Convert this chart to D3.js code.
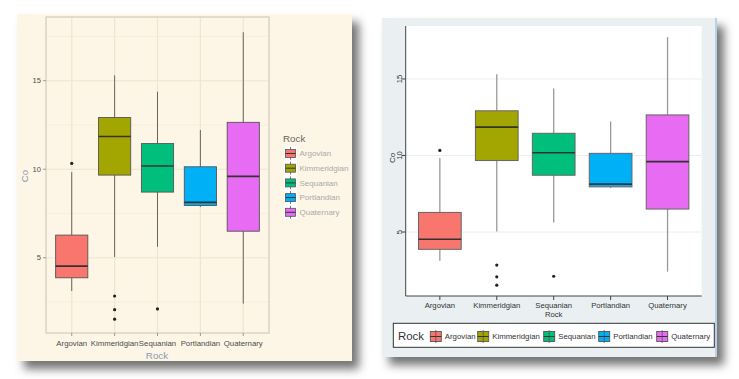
<!DOCTYPE html>
<html><head><meta charset="utf-8">
<script src="https://cdn.jsdelivr.net/npm/d3@7"></script>
<style>html,body{margin:0;padding:0;background:#fff;}svg{display:block;font-family:"Liberation Sans",Arial,sans-serif;}</style>
</head><body>
<svg id="c" width="739" height="379"></svg>
<script>
const categories = ["Argovian","Kimmeridgian","Sequanian","Portlandian","Quaternary"];
const fillColors = ["#F8766D","#A3A500","#00BF7D","#00B0F6","#E76BF3"];
const whiskerLow  = [3.12, 5.04, 5.62, 7.87, 2.41];
const q1          = [3.87, 9.67, 8.71, 7.95, 6.50];
const median      = [4.53, 11.85, 10.18, 8.13, 9.60];
const q3          = [6.28, 12.92, 11.45, 10.14, 12.65];
const whiskerHigh = [9.84, 15.30, 14.38, 12.22, 17.74];
const outlierCat  = ["Argovian","Kimmeridgian","Kimmeridgian","Kimmeridgian","Sequanian"];
const outlierVal  = [10.33, 2.84, 2.07, 1.53, 2.11];
const yTicks = [5, 10, 15];
const yMinor = [2.5, 7.5, 12.5, 17.5];

const rows = categories.map((c,i)=>({c, col:fillColors[i], lo:whiskerLow[i], q1:q1[i], med:median[i], q3:q3[i], hi:whiskerHigh[i]}));
const outs = outlierCat.map((c,i)=>({c, v:outlierVal[i]}));

const svg = d3.select("#c");
const defs = svg.append("defs");
const f = defs.append("filter").attr("id","sh").attr("x","-10%").attr("y","-10%").attr("width","130%").attr("height","130%");
f.append("feDropShadow").attr("dx",7).attr("dy",8).attr("stdDeviation",5).attr("flood-color","#000").attr("flood-opacity",0.55);

// ---------------- LEFT (ggplot style) ----------------
const L = svg.append("g");
L.append("rect").attr("x",17).attr("y",14).attr("width",335).attr("height",347).attr("fill","#fdf5e6").attr("filter","url(#sh)");
const lx = d3.scalePoint().domain(categories).range([46,269]).padding(0.6);
const ly = d3.scaleLinear().domain([0.75,18.6]).range([333,17]);
const lstep = lx.step(), lbw = lstep*0.75;
L.append("rect").attr("x",46).attr("y",17).attr("width",223).attr("height",316).attr("fill","#fdf5e6");
L.selectAll(".mn").data(yMinor).join("line").attr("x1",46).attr("x2",269).attr("y1",d=>ly(d)).attr("y2",d=>ly(d)).attr("stroke","#f5ecdb").attr("stroke-width",0.8);
L.selectAll(".mj").data(yTicks).join("line").attr("x1",46).attr("x2",269).attr("y1",d=>ly(d)).attr("y2",d=>ly(d)).attr("stroke","#f0e5cf").attr("stroke-width",1.2);
L.selectAll(".vj").data(categories).join("line").attr("x1",d=>lx(d)).attr("x2",d=>lx(d)).attr("y1",17).attr("y2",333).attr("stroke","#f0e5cf").attr("stroke-width",1.2);
L.append("rect").attr("x",46).attr("y",17).attr("width",223).attr("height",316).attr("fill","none").attr("stroke","#c9c2b6").attr("stroke-width",1);
// boxes
const lb = L.selectAll(".bx").data(rows).join("g");
lb.append("line").attr("x1",d=>lx(d.c)).attr("x2",d=>lx(d.c)).attr("y1",d=>ly(d.hi)).attr("y2",d=>ly(d.q3)).attr("stroke","#444").attr("stroke-width",0.8);
lb.append("line").attr("x1",d=>lx(d.c)).attr("x2",d=>lx(d.c)).attr("y1",d=>ly(d.q1)).attr("y2",d=>ly(d.lo)).attr("stroke","#444").attr("stroke-width",0.8);
lb.append("rect").attr("x",d=>lx(d.c)-lbw/2).attr("width",lbw).attr("y",d=>ly(d.q3)).attr("height",d=>ly(d.q1)-ly(d.q3)).attr("fill",d=>d.col).attr("stroke","#555").attr("stroke-width",0.9);
lb.append("line").attr("x1",d=>lx(d.c)-lbw/2).attr("x2",d=>lx(d.c)+lbw/2).attr("y1",d=>ly(d.med)).attr("y2",d=>ly(d.med)).attr("stroke","#333").attr("stroke-width",1.6);
L.selectAll(".ot").data(outs).join("circle").attr("cx",d=>lx(d.c)).attr("cy",d=>ly(d.v)).attr("r",1.6).attr("fill","#222");
// axes
L.selectAll(".yt").data(yTicks).join("line").attr("x1",43).attr("x2",46).attr("y1",d=>ly(d)).attr("y2",d=>ly(d)).attr("stroke","#999");
L.selectAll(".ytl").data(yTicks).join("text").attr("x",41).attr("y",d=>ly(d)).attr("dy","0.35em").attr("text-anchor","end").attr("font-size",7.6).attr("fill","#4d4d4d").text(d=>d);
L.selectAll(".xt").data(categories).join("line").attr("x1",d=>lx(d)).attr("x2",d=>lx(d)).attr("y1",333).attr("y2",336).attr("stroke","#999");
L.selectAll(".xtl").data(categories).join("text").attr("x",d=>lx(d)).attr("y",346).attr("text-anchor","middle").attr("font-size",7.8).attr("fill","#4d4d4d").text(d=>d);
L.append("text").attr("x",157).attr("y",359).attr("text-anchor","middle").attr("font-size",9.8).attr("fill","#8a9ab0").text("Rock");
L.append("text").attr("transform","translate(28,176) rotate(-90)").attr("text-anchor","middle").attr("font-size",9.6).attr("fill","#8a9ab0").text("Co");
// legend
L.append("text").attr("x",283).attr("y",142).attr("font-size",9.8).attr("fill","#666").text("Rock");
const lg = L.selectAll(".lg").data(rows).join("g").attr("transform",(d,i)=>`translate(284,${146+i*14.7})`);
lg.append("rect").attr("width",13).attr("height",14.7).attr("fill","#fff");
lg.append("line").attr("x1",6.5).attr("x2",6.5).attr("y1",1).attr("y2",13.7).attr("stroke","#555").attr("stroke-width",0.8);
lg.append("rect").attr("x",1.5).attr("y",3.5).attr("width",10).attr("height",8).attr("fill",d=>d.col).attr("stroke","#555").attr("stroke-width",0.8);
lg.append("line").attr("x1",1.5).attr("x2",11.5).attr("y1",7.5).attr("y2",7.5).attr("stroke","#333").attr("stroke-width",1);
lg.append("text").attr("x",15.5).attr("y",7.5).attr("dy","0.35em").attr("font-size",8).attr("fill","#aaa").text(d=>d.c);

// ---------------- RIGHT (Stata style) ----------------
const R = svg.append("g");
R.append("rect").attr("x",382).attr("y",18).attr("width",335).attr("height",339).attr("fill","#eaf0f2").attr("filter","url(#sh)");
R.append("line").attr("x1",716).attr("x2",716).attr("y1",18).attr("y2",357).attr("stroke","#a9c6e6").attr("stroke-width",1.5);
R.append("rect").attr("x",405.7).attr("y",26).attr("width",296).attr("height",270).attr("fill","#fff");
const rx = d3.scalePoint().domain(categories).range([405.7,701.7]).padding(0.6);
const ry = d3.scaleLinear().domain([0.82,18.46]).range([296,26]);
const rbw = rx.step()*0.75;
R.selectAll(".gj").data(yTicks).join("line").attr("x1",405.7).attr("x2",701.7).attr("y1",d=>ry(d)).attr("y2",d=>ry(d)).attr("stroke","#eaf0f2").attr("stroke-width",1);
const rb = R.selectAll(".bx").data(rows).join("g");
rb.append("line").attr("x1",d=>rx(d.c)).attr("x2",d=>rx(d.c)).attr("y1",d=>ry(d.hi)).attr("y2",d=>ry(d.q3)).attr("stroke","#999").attr("stroke-width",1.3);
rb.append("line").attr("x1",d=>rx(d.c)).attr("x2",d=>rx(d.c)).attr("y1",d=>ry(d.q1)).attr("y2",d=>ry(d.lo)).attr("stroke","#999").attr("stroke-width",1.3);
rb.append("rect").attr("x",d=>rx(d.c)-rbw/2).attr("width",rbw).attr("y",d=>ry(d.q3)).attr("height",d=>ry(d.q1)-ry(d.q3)).attr("fill",d=>d.col).attr("stroke","#666").attr("stroke-width",1);
rb.append("line").attr("x1",d=>rx(d.c)-rbw/2).attr("x2",d=>rx(d.c)+rbw/2).attr("y1",d=>ry(d.med)).attr("y2",d=>ry(d.med)).attr("stroke","#333").attr("stroke-width",1.6);
R.selectAll(".ot").data(outs).join("circle").attr("cx",d=>rx(d.c)).attr("cy",d=>ry(d.v)).attr("r",1.6).attr("fill","#222");
R.append("line").attr("x1",405.7).attr("x2",405.7).attr("y1",26).attr("y2",296).attr("stroke","#444").attr("stroke-width",1);
R.append("line").attr("x1",405.7).attr("x2",701.7).attr("y1",296).attr("y2",296).attr("stroke","#444").attr("stroke-width",1);
R.selectAll(".yt").data(yTicks).join("line").attr("x1",401.5).attr("x2",405.7).attr("y1",d=>ry(d)).attr("y2",d=>ry(d)).attr("stroke","#444");
R.selectAll(".ytl").data(yTicks).join("text").attr("transform",d=>`translate(401.5,${ry(d)}) rotate(-90)`).attr("text-anchor","middle").attr("font-size",7.6).attr("fill","#333").text(d=>d);
R.selectAll(".xt").data(categories).join("line").attr("x1",d=>rx(d)).attr("x2",d=>rx(d)).attr("y1",296).attr("y2",300).attr("stroke","#444");
R.selectAll(".xtl").data(categories).join("text").attr("x",d=>rx(d)).attr("y",307.5).attr("text-anchor","middle").attr("font-size",7.7).attr("fill","#333").text(d=>d);
R.append("text").attr("x",rx("Sequanian")).attr("y",316.5).attr("text-anchor","middle").attr("font-size",7.7).attr("fill","#333").text("Rock");
R.append("text").attr("transform","translate(395,158) rotate(-90)").attr("text-anchor","middle").attr("font-size",8).attr("fill","#333").text("Co");
// legend box
R.append("rect").attr("x",393.3).attr("y",323.3).attr("width",321).attr("height",24).attr("fill","#fff").attr("stroke","#333").attr("stroke-width",1);
R.append("text").attr("x",398).attr("y",339.5).attr("font-size",11.4).attr("fill","#333").text("Rock");
const keyX = [430.3, 477.7, 543.7, 598.7, 656.7];
const rlg = R.selectAll(".rl").data(rows).join("g").attr("transform",(d,i)=>`translate(${keyX[i]},331.5)`);
rlg.append("rect").attr("width",11).attr("height",10).attr("fill",d=>d.col).attr("stroke","#555").attr("stroke-width",0.9);
rlg.append("line").attr("x1",5.5).attr("x2",5.5).attr("y1",-1.5).attr("y2",11.5).attr("stroke","#555").attr("stroke-width",0.8);
rlg.append("line").attr("x1",0).attr("x2",11).attr("y1",5).attr("y2",5).attr("stroke","#333").attr("stroke-width",1);
rlg.append("text").attr("x",14.5).attr("y",5).attr("dy","0.35em").attr("font-size",7.8).attr("fill","#333").text(d=>d.c);
</script>
</body></html>
